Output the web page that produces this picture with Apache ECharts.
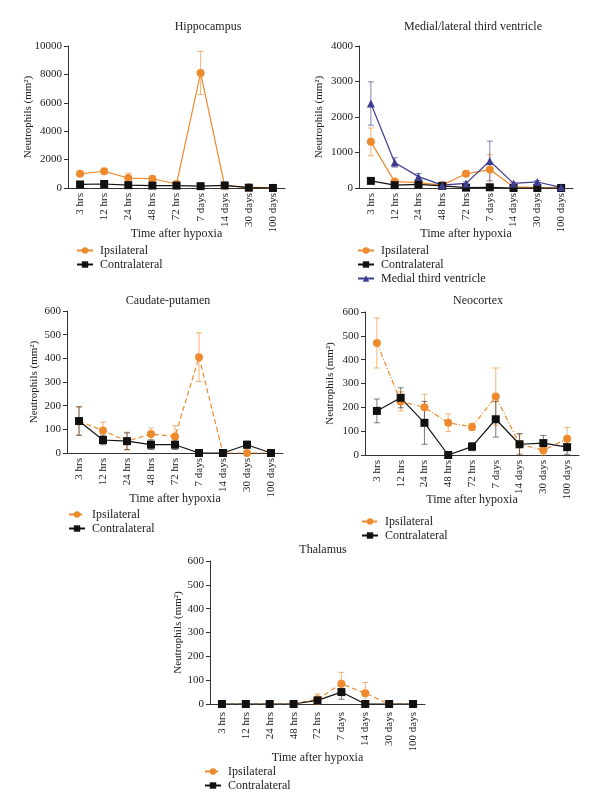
<!DOCTYPE html>
<html>
<head>
<meta charset="utf-8">
<script src="https://cdn.jsdelivr.net/npm/echarts@6/dist/echarts.min.js"></script>
<style>html,body{margin:0;padding:0;background:#fff}#c{width:600px;height:812px}</style>
</head>
<body>
<div id="c"></div>
<script>
const categories = ['3 hrs','12 hrs','24 hrs','48 hrs','72 hrs','7 days','14 days','30 days','100 days'];

const hippoIpsi = [1000, 1180, 700, 650, 280, 8100, 150, 60, 10];
const hippoIpsiErr = [80, 180, 350, 80, 60, 1520, 60, 30, 10];
const hippoContra = [250, 280, 200, 170, 170, 130, 180, 20, 0];
const hippoContraErr = [60, 60, 50, 40, 40, 30, 60, 10, 0];

const ventIpsi = [1300, 180, 150, 80, 400, 520, 30, 10, 0];
const ventIpsiErr = [390, 60, 50, 30, 80, 420, 20, 10, 0];
const ventContra = [200, 80, 100, 60, 10, 20, 0, 0, 0];
const ventContraErr = [40, 30, 30, 20, 10, 10, 0, 0, 0];
const ventMedial = [2380, 720, 320, 80, 130, 760, 130, 170, 20];
const ventMedialErr = [610, 130, 90, 30, 40, 560, 30, 40, 10];

const cpIpsi = [135, 95, 50, 80, 70, 405, 0, 0, 0];
const cpIpsiErr = [60, 35, 38, 25, 45, 103, 0, 0, 0];
const cpContra = [135, 55, 50, 35, 35, 0, 0, 35, 0];
const cpContraErr = [60, 20, 35, 20, 20, 0, 0, 15, 0];

const ncIpsi = [470, 225, 200, 135, 118, 245, 45, 20, 68];
const ncIpsiErr = [105, 40, 55, 37, 15, 120, 40, 20, 47];
const ncContra = [185, 240, 135, 0, 35, 150, 45, 50, 33];
const ncContraErr = [50, 42, 90, 0, 17, 75, 45, 32, 30];

const thIpsi = [0, 0, 0, 0, 20, 85, 45, 0, 0];
const thIpsiErr = [0, 0, 0, 0, 22, 48, 45, 0, 0];
const thContra = [0, 0, 0, 0, 15, 50, 0, 0, 0];
const thContraErr = [0, 0, 0, 0, 10, 30, 0, 0, 0];

const panelTitles = ['Hippocampus', 'Medial/lateral third ventricle', 'Caudate-putamen', 'Neocortex', 'Thalamus'];
const yMax = [10000, 4000, 600, 600, 600];
const yInterval = [2000, 1000, 100, 100, 100];
const sigMarks = [
  {panel: 0, cat: '7 days', y: 9950, text: '**'},
  {panel: 1, cat: '3 hrs', y: 3120, text: '**'},
  {panel: 2, cat: '7 days', y: 530, text: '**'},
  {panel: 3, cat: '3 hrs', y: 595, text: '*'}
];

const FONT = 'Liberation Serif';
const ORANGE = '#EE8A2E';
const BLACK = '#111111';
const PURPLE = '#3F3D8F';

const grids = [
  {left: 68, top: 46, width: 217, height: 142},
  {left: 359, top: 46, width: 214, height: 142},
  {left: 67, top: 311, width: 216, height: 142},
  {left: 365, top: 312, width: 214, height: 143},
  {left: 210, top: 561, width: 215, height: 143}
];
const titlePos = [
  {x: 203, y: 16}, {x: 468, y: 16}, {x: 163, y: 290}, {x: 473, y: 290}, {x: 318, y: 539}
];
const legendPos = [
  {left: 76, top: 244}, {left: 357, top: 244}, {left: 68, top: 508}, {left: 361, top: 515}, {left: 204, top: 765}
];
const yNameGap = [34, 34, 27, 29, 26];
const xNameGap = [40, 40, 40, 39, 48];

const xAxes = grids.map((g, i) => ({
  type: 'category', gridIndex: i, data: categories,
  boundaryGap: true,
  axisLine: {lineStyle: {color: '#333', width: 1}},
  axisTick: {show: false},
  axisLabel: {rotate: 90, fontFamily: FONT, color: '#222', fontSize: 11, margin: i === 4 ? 8 : 5, interval: 0},
  name: 'Time after hypoxia', nameLocation: 'middle', nameGap: xNameGap[i], nameMoveOverlap: false,
  nameTextStyle: {fontFamily: FONT, color: '#222', fontSize: 12}
}));
const yAxes = grids.map((g, i) => ({
  type: 'value', gridIndex: i, min: 0, max: yMax[i], interval: yInterval[i],
  axisLine: {show: true, lineStyle: {color: '#333', width: 1}},
  axisTick: {show: true, length: 4, lineStyle: {color: '#333'}},
  splitLine: {show: false},
  axisLabel: {fontFamily: FONT, color: '#222', fontSize: 11, margin: 6, formatter: v => String(v)},
  name: 'Neutrophils (mm²)', nameLocation: 'middle', nameRotate: 90,
  nameGap: yNameGap[i], nameMoveOverlap: false,
  nameTextStyle: {fontFamily: FONT, color: '#222', fontSize: 11}
}));

function errData(vals, errs) {
  const out = [];
  vals.forEach((v, k) => { if (errs[k] > 0) out.push([k, v - errs[k], v + errs[k]]); });
  return out;
}
function errSeries(vals, errs, color, gi) {
  return {
    type: 'custom', xAxisIndex: gi, yAxisIndex: gi, silent: true, z: 1,
    data: errData(vals, errs),
    renderItem: function (params, api) {
      const lo = api.coord([api.value(0), api.value(1)]);
      const hi = api.coord([api.value(0), api.value(2)]);
      const w = 3;
      const st = {stroke: color, lineWidth: 1, opacity: 0.65};
      return {type: 'group', children: [
        {type: 'line', shape: {x1: lo[0], y1: lo[1], x2: hi[0], y2: hi[1]}, style: st},
        {type: 'line', shape: {x1: hi[0] - w, y1: hi[1], x2: hi[0] + w, y2: hi[1]}, style: st},
        {type: 'line', shape: {x1: lo[0] - w, y1: lo[1], x2: lo[0] + w, y2: lo[1]}, style: st}
      ]};
    }
  };
}
function lineSeries(name, vals, color, symbol, dash, gi, size) {
  return {
    name: name, type: 'line', xAxisIndex: gi, yAxisIndex: gi, data: vals,
    symbol: symbol, symbolSize: size || 8, z: 3,
    lineStyle: {color: color, width: 1.2, type: dash},
    itemStyle: {color: color},
    emphasis: {disabled: true}
  };
}

const series = [];
const panels = [
  [{n: 'Ipsilateral#0', v: hippoIpsi, e: hippoIpsiErr, c: ORANGE, s: 'circle', d: 'solid'},
   {n: 'Contralateral#0', v: hippoContra, e: hippoContraErr, c: BLACK, s: 'rect', d: 'solid'}],
  [{n: 'Ipsilateral#1', v: ventIpsi, e: ventIpsiErr, c: ORANGE, s: 'circle', d: 'solid'},
   {n: 'Contralateral#1', v: ventContra, e: ventContraErr, c: BLACK, s: 'rect', d: 'solid'},
   {n: 'Medial third ventricle#1', v: ventMedial, e: ventMedialErr, c: PURPLE, s: 'triangle', d: 'solid'}],
  [{n: 'Ipsilateral#2', v: cpIpsi, e: cpIpsiErr, c: ORANGE, s: 'circle', d: [5, 3]},
   {n: 'Contralateral#2', v: cpContra, e: cpContraErr, c: BLACK, s: 'rect', d: 'solid'}],
  [{n: 'Ipsilateral#3', v: ncIpsi, e: ncIpsiErr, c: ORANGE, s: 'circle', d: [5, 2, 1, 2]},
   {n: 'Contralateral#3', v: ncContra, e: ncContraErr, c: BLACK, s: 'rect', d: 'solid'}],
  [{n: 'Ipsilateral#4', v: thIpsi, e: thIpsiErr, c: ORANGE, s: 'circle', d: [5, 3]},
   {n: 'Contralateral#4', v: thContra, e: thContraErr, c: BLACK, s: 'rect', d: 'solid'}]
];
panels.forEach((list, gi) => {
  list.forEach(p => {
    series.push(errSeries(p.v, p.e, p.c === BLACK ? '#333' : p.c, gi));
  });
  list.forEach(p => {
    series.push(lineSeries(p.n, p.v, p.c, p.s, p.d, gi));
  });
});
sigMarks.forEach(m => {
  series.push({
    type: 'scatter', xAxisIndex: m.panel, yAxisIndex: m.panel, symbol: 'none', silent: true,
    data: [[m.cat, m.y]],
    label: {show: true, formatter: m.text, position: 'inside', fontFamily: 'DejaVu Sans', fontSize: 10, color: '#888'}
  });
});

const titles = panelTitles.map((t, i) => ({
  text: t, left: titlePos[i].x, top: titlePos[i].y, textAlign: 'center',
  textStyle: {fontFamily: FONT, color: '#222', fontSize: 12, fontWeight: 'normal'}
}));

const legends = panels.map((list, gi) => ({
  orient: 'vertical', left: legendPos[gi].left, top: legendPos[gi].top, padding: 0,
  data: list.map(p => p.n), itemWidth: 16, itemHeight: 8, itemGap: 1,
  selectedMode: false,
  formatter: name => name.split('#')[0],
  textStyle: {fontFamily: FONT, color: '#222', fontSize: 12, lineHeight: 13, padding: [0, 0, 0, 2]}
}));

const chart = echarts.init(document.getElementById('c'), null, {renderer: 'canvas'});
chart.setOption({
  animation: false,
  backgroundColor: '#fff',
  title: titles,
  legend: legends,
  grid: grids,
  xAxis: xAxes,
  yAxis: yAxes,
  series: series
});
</script>
</body>
</html>
